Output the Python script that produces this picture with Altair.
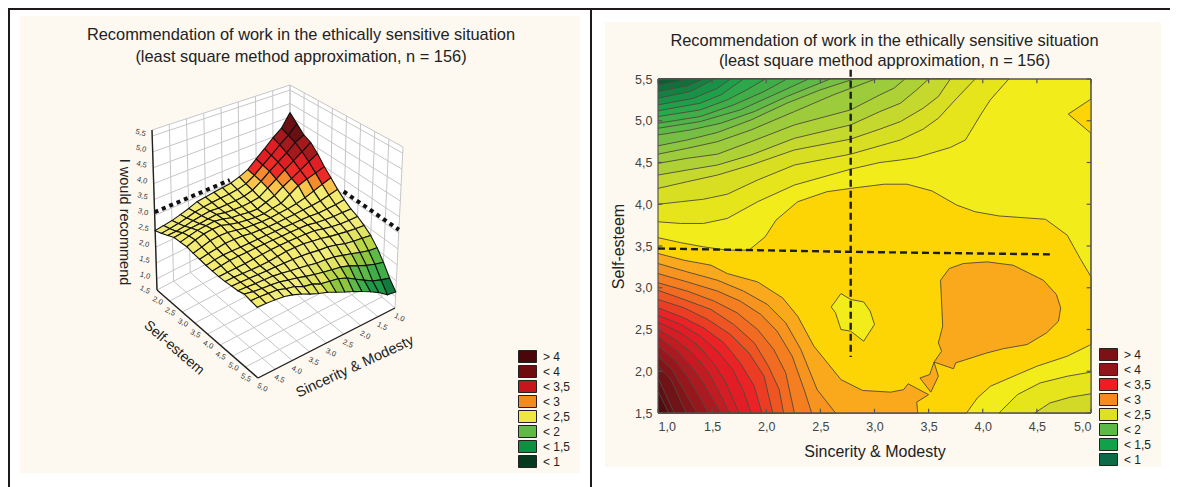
import altair as alt
import pandas as pd

FONT = "Liberation Sans"
TITLE = ["Recommendation of work in the ethically sensitive situation",
         "(least square method approximation, n = 156)"]
LEVEL_LABELS = ["> 4", "< 4", "< 3,5", "< 3", "< 2,5", "< 2", "< 1,5", "< 1"]
LEGEND_3D = ["#4a0608", "#6e0c10", "#c8151c", "#f28b1e", "#eee93a", "#5fbb46", "#0f8f42", "#063a1e"]
LEGEND_2D = ["#7d1117", "#941519", "#ee1c25", "#f58a1f", "#dde11f", "#5cb947", "#12a14b", "#0c6b46"]

# Response surface, rows: self-esteem 1.5..5.5 (step .25), columns: sincerity 1..5 (step .25)
S_VALUES = [1 + i * 0.25 for i in range(17)]
SE_VALUES = [1.5 + i * 0.25 for i in range(17)]
Z = [
 [4.66,4.20,3.97,3.70,3.45,3.20,3.07,2.98,2.95,2.92,2.88,2.85,2.75,2.67,2.60,2.56,2.52],
 [4.40,4.10,3.88,3.62,3.40,3.17,3.00,2.93,2.90,2.89,2.87,2.84,2.80,2.73,2.67,2.63,2.60],
 [4.15,4.00,3.75,3.55,3.35,3.13,2.95,2.87,2.85,2.85,2.85,2.88,2.85,2.81,2.75,2.71,2.70],
 [4.04,3.83,3.63,3.44,3.25,3.06,2.88,2.84,2.82,2.84,2.87,2.93,2.91,2.88,2.86,2.83,2.80],
 [3.80,3.63,3.47,3.30,3.15,2.97,2.87,2.78,2.79,2.84,2.87,2.95,3.00,2.98,2.95,2.89,2.82],
 [3.50,3.40,3.32,3.22,3.05,2.88,2.84,2.79,2.79,2.83,2.87,2.94,3.03,3.03,3.00,2.93,2.84],
 [3.27,3.17,3.07,2.97,2.90,2.86,2.84,2.82,2.82,2.84,2.86,2.92,2.97,2.98,2.95,2.87,2.80],
 [3.03,2.96,2.90,2.87,2.86,2.84,2.83,2.82,2.82,2.84,2.85,2.90,2.91,2.91,2.87,2.83,2.78],
 [2.84,2.80,2.79,2.78,2.81,2.82,2.82,2.83,2.83,2.83,2.83,2.83,2.83,2.83,2.83,2.80,2.75],
 [2.69,2.70,2.70,2.73,2.76,2.82,2.83,2.84,2.84,2.84,2.84,2.84,2.83,2.83,2.82,2.78,2.74],
 [2.60,2.60,2.62,2.66,2.72,2.79,2.81,2.82,2.83,2.83,2.82,2.80,2.78,2.76,2.75,2.74,2.73],
 [2.46,2.49,2.53,2.58,2.63,2.70,2.74,2.79,2.80,2.80,2.77,2.74,2.73,2.73,2.74,2.75,2.74],
 [2.30,2.34,2.38,2.43,2.52,2.59,2.61,2.66,2.69,2.71,2.72,2.73,2.73,2.74,2.75,2.76,2.76],
 [2.06,2.10,2.18,2.27,2.35,2.43,2.47,2.49,2.55,2.60,2.64,2.69,2.73,2.74,2.75,2.77,2.78],
 [1.76,1.83,1.93,2.05,2.18,2.27,2.32,2.37,2.43,2.50,2.58,2.64,2.71,2.74,2.76,2.79,2.84],
 [1.42,1.50,1.60,1.76,1.92,2.09,2.20,2.25,2.30,2.42,2.47,2.60,2.66,2.75,2.77,2.79,2.80],
 [1.15,1.20,1.40,1.56,1.70,1.83,1.95,2.07,2.20,2.29,2.40,2.53,2.63,2.70,2.73,2.75,2.76],
]

# Filled contour regions of the right panel as (sincerity, self-esteem) vertices, back to front.
REGIONS = [
 ("#f2ec1a", [(1,1.5),(5,1.5),(5,5.5),(1,5.5)]),
 ("#e6e51c", [(1,3.79),(1.21,3.77),(1.42,3.77),(1.64,3.83),(1.92,4.03),(2.26,4.23),(2.78,4.42),(3.05,4.50),(3.24,4.53),(3.39,4.56),(3.70,4.68),(3.84,4.77),(3.98,5.07),(4.07,5.25),(4.24,5.5),(1,5.5)]),
 ("#d8df22", [(1,4.0),(1.21,4.03),(1.42,4.06),(1.64,4.12),(1.92,4.29),(2.26,4.47),(2.78,4.60),(3.05,4.70),(3.24,4.77),(3.45,4.90),(3.59,5.03),(3.76,5.27),(3.93,5.5),(1,5.5)]),
 ("#c5d82e", [(1,4.19),(1.27,4.27),(1.55,4.35),(1.86,4.47),(2.26,4.65),(2.78,4.78),(3.05,4.90),(3.24,4.99),(3.45,5.15),(3.59,5.29),(3.70,5.5),(1,5.5)]),
 ("#aed136", [(1,4.35),(1.27,4.41),(1.55,4.47),(1.86,4.59),(2.26,4.79),(2.78,4.95),(3.05,5.11),(3.24,5.21),(3.39,5.37),(3.50,5.5),(1,5.5)]),
 ("#9ccb3b", [(1,4.49),(1.27,4.55),(1.55,4.60),(1.86,4.75),(2.26,4.95),(2.78,5.13),(3.05,5.31),(3.18,5.39),(3.28,5.5),(1,5.5)]),
 ("#8cc63f", [(1,4.60),(1.27,4.67),(1.55,4.75),(1.86,4.89),(2.26,5.11),(2.62,5.31),(3.01,5.5),(1,5.5)]),
 ("#75c044", [(1,4.70),(1.27,4.77),(1.55,4.86),(1.86,5.01),(2.19,5.21),(2.50,5.37),(2.81,5.5),(1,5.5)]),
 ("#5fb946", [(1,4.83),(1.30,4.89),(1.58,4.97),(1.89,5.11),(2.19,5.29),(2.59,5.5),(1,5.5)]),
 ("#4fb348", [(1,4.91),(1.39,4.99),(1.76,5.13),(2.07,5.31),(2.39,5.5),(1,5.5)]),
 ("#3fae49", [(1,4.97),(1.39,5.05),(1.70,5.19),(1.98,5.35),(2.19,5.5),(1,5.5)]),
 ("#2ca84a", [(1,5.05),(1.39,5.13),(1.64,5.25),(1.82,5.37),(1.99,5.5),(1,5.5)]),
 ("#1f9f4a", [(1,5.12),(1.39,5.21),(1.58,5.31),(1.79,5.5),(1,5.5)]),
 ("#1a9148", [(1,5.19),(1.33,5.27),(1.55,5.39),(1.67,5.5),(1,5.5)]),
 ("#168042", [(1,5.27),(1.30,5.35),(1.52,5.5),(1,5.5)]),
 ("#126e3b", [(1,5.35),(1.27,5.42),(1.42,5.5),(1,5.5)]),
 ("#0e5e35", [(1,5.43),(1.18,5.47),(1.24,5.5),(1,5.5)]),
 ("#fdd504", [(1,3.60),(1.21,3.54),(1.42,3.49),(1.64,3.45),(1.84,3.45),(1.99,3.61),(2.09,3.81),(2.29,4.03),(2.56,4.15),(2.78,4.19),(3.09,4.24),(3.30,4.24),(3.53,4.16),(3.76,3.99),(3.93,3.91),(4.15,3.86),(4.58,3.82),(4.78,3.63),(4.90,3.35),(5,3.13),(5,2.32),(4.78,2.18),(4.50,2.06),(4.32,1.96),(4.07,1.82),(3.95,1.68),(3.85,1.5),(1,1.5)]),
 ("#fdd504", [(5,5.26),(4.79,5.08),(5,4.85)]),
 ("#e6e51c", [(5,1.99),(4.78,1.94),(4.53,1.86),(4.32,1.72),(4.15,1.5),(5,1.5)]),
 ("#d2da27", [(5,1.73),(4.81,1.69),(4.62,1.62),(4.48,1.5),(5,1.5)]),
 ("#f9a91b", [(1,3.41),(1.24,3.33),(1.49,3.27),(1.64,3.17),(1.92,3.07),(2.15,2.88),(2.29,2.66),(2.44,2.30),(2.69,1.90),(2.89,1.77),(3.15,1.75),(3.27,1.78),(3.31,1.85),(3.50,1.72),(3.39,1.63),(3.40,1.5),(1,1.5)]),
 ("#f79420", [(1,3.29),(1.27,3.19),(1.55,3.09),(1.79,2.96),(2.01,2.80),(2.18,2.58),(2.32,2.26),(2.47,1.78),(2.64,1.5),(1,1.5)]),
 ("#f57f20", [(1,3.17),(1.27,3.07),(1.55,2.96),(1.76,2.84),(1.95,2.68),(2.10,2.48),(2.24,2.18),(2.35,1.78),(2.42,1.5),(1,1.5)]),
 ("#f26b22", [(1,3.06),(1.27,2.96),(1.52,2.84),(1.73,2.70),(1.92,2.50),(2.07,2.26),(2.18,1.98),(2.26,1.5),(1,1.5)]),
 ("#ef5423", [(1,2.97),(1.24,2.86),(1.49,2.74),(1.70,2.56),(1.89,2.34),(2.02,2.06),(2.12,1.78),(2.16,1.5),(1,1.5)]),
 ("#ed3c24", [(1,2.86),(1.24,2.76),(1.46,2.62),(1.67,2.44),(1.84,2.22),(1.98,1.94),(2.06,1.5),(1,1.5)]),
 ("#ec2326", [(1,2.76),(1.24,2.64),(1.42,2.52),(1.61,2.34),(1.76,2.10),(1.89,1.82),(1.96,1.5),(1,1.5)]),
 ("#e31d25", [(1,2.67),(1.21,2.56),(1.39,2.42),(1.55,2.24),(1.69,2.02),(1.79,1.76),(1.86,1.5),(1,1.5)]),
 ("#d41d24", [(1,2.59),(1.21,2.46),(1.36,2.32),(1.50,2.12),(1.62,1.88),(1.75,1.5),(1,1.5)]),
 ("#c01c22", [(1,2.50),(1.18,2.36),(1.33,2.20),(1.46,2.0),(1.56,1.76),(1.66,1.5),(1,1.5)]),
 ("#aa1a20", [(1,2.41),(1.16,2.26),(1.29,2.08),(1.41,1.88),(1.58,1.5),(1,1.5)]),
 ("#96181d", [(1,2.30),(1.15,2.14),(1.27,1.94),(1.47,1.5),(1,1.5)]),
 ("#82151a", [(1,2.18),(1.13,2.02),(1.36,1.5),(1,1.5)]),
 ("#701317", [(1,2.06),(1.12,1.90),(1.26,1.5),(1,1.5)]),
 ("#601014", [(1,1.92),(1.15,1.5),(1,1.5)]),
 ("#500c10", [(1,1.76),(1.10,1.5),(1,1.5)]),
 ("#f9a91b", [(3.69,3.23),(3.82,3.29),(4.04,3.31),(4.28,3.27),(4.56,3.09),(4.68,2.92),(4.72,2.76),(4.70,2.60),(4.59,2.46),(4.41,2.32),(4.19,2.27),(4.04,2.22),(3.75,2.10),(3.73,2.03),(3.55,2.11),(3.59,1.94),(3.52,1.75),(3.42,1.92),(3.51,1.96),(3.55,2.11),(3.62,2.24),(3.59,2.34),(3.63,2.54),(3.61,3.09),(3.69,3.23)]),
 ("#f2ec1a", [(2.69,2.93),(2.78,2.86),(2.90,2.83),(2.96,2.72),(3.0,2.56),(2.90,2.36),(2.78,2.48),(2.69,2.50),(2.64,2.70),(2.60,2.77),(2.69,2.93)]),
]
# Dashed cross (sincerity, self-esteem)
DASH_V = [(2.78, 5.61), (2.78, 2.17)]
DASH_H = [(1.0, 3.47), (2.78, 3.43), (4.62, 3.40)]

AXIS_S = [1.0, 1.5, 2.0, 2.5, 3.0, 3.5, 4.0, 4.5, 5.0]
AXIS_SE = [1.5, 2.0, 2.5, 3.0, 3.5, 4.0, 4.5, 5.0, 5.5]
AXIS_Z = [1.0, 1.5, 2.0, 2.5, 3.0, 3.5, 4.0, 4.5, 5.0, 5.5]

def comma(v):
    return f"{v:.1f}".replace(".", ",")

# ---------- 3D projection: box corners on the left panel ----------
FLOOR = {"b": (290, 220), "l": (157, 290), "r": (395, 308), "f": (258, 378)}
TOP = {"b": (290, 85), "l": (152, 130), "r": (403, 147), "f": (256, 209)}
ZMIN, ZMAX = 0.65, 5.69

def proj(s, se, z):
    u, v, w = (s - 1) / 4, (se - 1.5) / 4, (z - ZMIN) / (ZMAX - ZMIN)
    def bil(c, i):
        return ((1-u)*(1-v)*c["b"][i] + u*(1-v)*c["l"][i] + (1-u)*v*c["r"][i] + u*v*c["f"][i])
    return ((1-w)*bil(FLOOR, 0) + w*bil(TOP, 0), (1-w)*bil(FLOOR, 1) + w*bil(TOP, 1))

def surf_color(z):
    stops = [(1.2,"#0a3a1e"),(1.4,"#127a3c"),(1.6,"#1e9a46"),(1.8,"#3fae49"),(2.0,"#5fb946"),
             (2.15,"#8cc63f"),(2.3,"#b8d648"),(2.5,"#e2e563"),(2.75,"#f1ec7a"),(3.06,"#f4ec70"),
             (3.18,"#f9c24a"),(3.3,"#f58a2e"),(3.5,"#ed2a26"),(3.8,"#e01f24"),(4.1,"#a5181c"),(4.4,"#6a0f12")]
    for lim, c in stops:
        if z < lim:
            return c
    return "#3e080a"

def poly_frame(polys):
    rows = []
    for i, (fill, pts) in enumerate(polys):
        for j, (a, b) in enumerate(pts):
            rows.append({"poly": i, "ord": j, "a": a, "b": b, "fill": fill})
    return pd.DataFrame(rows)

# ---------- left panel ----------
LX = alt.Scale(domain=[20, 590], nice=False, zero=False)
LY = alt.Scale(domain=[413, 79], nice=False, zero=False)
def lx(f="a"): return alt.X(f"{f}:Q", scale=LX, axis=None)
def ly(f="b"): return alt.Y(f"{f}:Q", scale=LY, axis=None)

def filled(df, stroke=None, width=1.0, scx=lx, scy=ly):
    kw = {"strokeWidth": width} if stroke else {"strokeWidth": 0}
    if stroke:
        kw["stroke"] = stroke
    return alt.Chart(df).mark_line(filled=True, **kw).encode(
        x=scx(), y=scy(), order="ord:Q", detail="poly:N",
        fill=alt.Fill("fill:N", scale=None))

def segs(seglist, color, width, dash=None):
    rows = []
    for i, (p, q) in enumerate(seglist):
        rows.append({"seg": i, "ord": 0, "a": p[0], "b": p[1]})
        rows.append({"seg": i, "ord": 1, "a": q[0], "b": q[1]})
    kw = {"strokeDash": dash} if dash else {}
    return alt.Chart(pd.DataFrame(rows)).mark_line(color=color, strokeWidth=width, **kw).encode(
        x=lx(), y=ly(), order="ord:Q", detail="seg:N")

def rects(rows, color):
    df = pd.DataFrame(rows, columns=["a", "a2", "b", "b2"])
    return alt.Chart(df).mark_rect(color=color).encode(x=lx(), x2="a2:Q", y=ly(), y2="b2:Q")

cream = "#fdf9f1"
bg = rects([(20, 580, 16, 473), (605, 1161, 22, 467)], cream)
borders = rects([(8, 1170, 8, 10), (8, 10, 8, 487), (590, 592, 8, 487)], "#1e1a1b")

wall_polys = [
 ("#ffffff", [proj(1,1.5,ZMIN),proj(5,1.5,ZMIN),proj(5,1.5,ZMAX),proj(1,1.5,ZMAX)]),
 ("#ffffff", [proj(1,1.5,ZMIN),proj(1,5.5,ZMIN),proj(1,5.5,ZMAX),proj(1,1.5,ZMAX)]),
 ("#ffffff", [proj(1,1.5,ZMIN),proj(5,1.5,ZMIN),proj(5,5.5,ZMIN),proj(1,5.5,ZMIN)]),
]
walls = filled(poly_frame(wall_polys))
grid_segs = []
for s in AXIS_S:
    grid_segs += [(proj(s,1.5,ZMIN),proj(s,1.5,ZMAX)), (proj(s,1.5,ZMIN),proj(s,5.5,ZMIN))]
for se in AXIS_SE:
    grid_segs += [(proj(1,se,ZMIN),proj(1,se,ZMAX)), (proj(1,se,ZMIN),proj(5,se,ZMIN))]
for z in AXIS_Z + [ZMAX]:
    grid_segs += [(proj(1,1.5,z),proj(5,1.5,z)), (proj(1,1.5,z),proj(1,5.5,z))]
grid = segs(grid_segs, "#c6c6c6", 1)
edges = segs([(proj(5,1.5,ZMIN),proj(5,5.5,ZMIN)), (proj(5,5.5,ZMIN),proj(1,5.5,ZMIN)),
              (proj(5,1.5,ZMIN),proj(5,1.5,ZMAX))], "#222222", 1.4)
dots = segs([(proj(5,1.5,3.1),proj(2.78,1.5,3.1)), (proj(1,3.47,3.1),proj(1,5.5,3.1))], "#141012", 4, [4,4])

quads = []
for i in range(16):
    for j in range(16):
        quads.append((i + j, i, j))
quads.sort()
polys = []
for _, i, j in quads:
    pts = [proj(S_VALUES[j], SE_VALUES[i], Z[i][j]),
           proj(S_VALUES[j+1], SE_VALUES[i], Z[i][j+1]),
           proj(S_VALUES[j+1], SE_VALUES[i+1], Z[i+1][j+1]),
           proj(S_VALUES[j], SE_VALUES[i+1], Z[i+1][j]),
           proj(S_VALUES[j], SE_VALUES[i], Z[i][j])]
    polys.append((surf_color((Z[i][j]+Z[i][j+1]+Z[i+1][j]+Z[i+1][j+1])/4), pts))
surface = filled(poly_frame(polys), stroke="#111111", width=1.1)

def tick_text(rows, angle, dx, dy):
    return alt.Chart(pd.DataFrame(rows)).mark_text(
        font=FONT, fontSize=7.5, color="#333333", angle=angle, dx=dx, dy=dy).encode(
        x=lx(), y=ly(), text="t:N")
t_se = tick_text([{"a": proj(5,v,ZMIN)[0], "b": proj(5,v,ZMIN)[1], "t": comma(v)} for v in AXIS_SE], 25, -11, 5)
t_s = tick_text([{"a": proj(v,5.5,ZMIN)[0], "b": proj(v,5.5,ZMIN)[1], "t": comma(v)} for v in AXIS_S], 25, 8, 7)
t_z = tick_text([{"a": proj(5,1.5,v)[0], "b": proj(5,1.5,v)[1], "t": comma(v)} for v in AXIS_Z], 15, -12, 0)

def axis_text(label, x, y, angle, size):
    return alt.Chart(pd.DataFrame([{"a": x, "b": y, "t": label}])).mark_text(
        font=FONT, fontSize=size, color="#222222", angle=angle).encode(x=lx(), y=ly(), text="t:N")

def legend_layer(colors, lx_pos, ly_pos):
    return alt.Chart(pd.DataFrame({"lab": LEVEL_LABELS})).mark_point(filled=True, opacity=0).encode(
        color=alt.Color("lab:N", sort=LEVEL_LABELS,
            scale=alt.Scale(domain=LEVEL_LABELS, range=colors),
            legend=alt.Legend(title=None, orient="none", legendX=lx_pos, legendY=ly_pos,
                symbolType="M-1.5,-1H1.5V1H-1.5Z", symbolSize=144, symbolOpacity=1,
                symbolStrokeColor="#222222", symbolStrokeWidth=1, zindex=2,
                labelFont=FONT, labelFontSize=12, labelColor="#222222", rowPadding=-2.8,
                labelOffset=9)))

left = alt.layer(
    bg, borders, walls, grid, dots, edges, surface, t_se, t_s, t_z,
    axis_text("I would recommend", 124, 222, 90, 14.5),
    axis_text("Self-esteem", 174, 348, 41, 14),
    axis_text("Sincerity & Modesty", 355, 367, 335, 14.5),
    legend_layer(LEGEND_3D, 501, 271),
).properties(width=570, height=334,
    title=alt.TitleParams(TITLE, font=FONT, fontSize=16.4, fontWeight="normal", color="#222222", frame="group",
                          anchor="middle", offset=-57, dx=-4, lineHeight=22))

# ---------- right panel ----------
RX = alt.Scale(domain=[1, 5], nice=False, zero=False)
RY = alt.Scale(domain=[1.5, 5.5], nice=False, zero=False)
AX = alt.Axis(title="Sincerity & Modesty", values=AXIS_S, labelExpr="replace(format(datum.value,'.1f'),'.',',')",
        domain=False, ticks=False, grid=False, labelFont=FONT, labelFontSize=12.5, labelColor="#444444", zindex=1,
        labelPadding=7, titleFont=FONT, titleFontSize=16, titleFontWeight="normal", titleColor="#222222", titlePadding=11)
AY = alt.Axis(title="Self-esteem", values=AXIS_SE, labelExpr="replace(format(datum.value,'.1f'),'.',',')",
        domain=False, ticks=False, grid=False, labelFont=FONT, labelFontSize=12.5, labelColor="#444444", zindex=1,
        labelPadding=6, titleFont=FONT, titleFontSize=16, titleFontWeight="normal", titleColor="#222222", titlePadding=8)
def rx(f="a"): return alt.X(f"{f}:Q", scale=RX, axis=AX)
def ry(f="b"): return alt.Y(f"{f}:Q", scale=RY, axis=AY)

contours = alt.Chart(poly_frame(REGIONS)).mark_line(filled=True, stroke="#4e4a3c", strokeWidth=0.9).encode(
    x=rx(), y=ry(), order="ord:Q", detail="poly:N", fill=alt.Fill("fill:N", scale=None))

frame_rows = [{"a":1,"b":1.5,"a2":5,"b2":1.5},{"a":1,"b":5.5,"a2":5,"b2":5.5},
              {"a":1,"b":1.5,"a2":1,"b2":5.5},{"a":5,"b":1.5,"a2":5,"b2":5.5}]
for v in AXIS_S:
    frame_rows += [{"a":v,"b":5.5,"a2":v,"b2":5.45},{"a":v,"b":1.5,"a2":v,"b2":1.55}]
for v in AXIS_SE:
    frame_rows += [{"a":5,"b":v,"a2":4.96,"b2":v},{"a":1,"b":v,"a2":1.04,"b2":v}]
frame = alt.Chart(pd.DataFrame(frame_rows)).mark_rule(color="#555555", strokeWidth=1.2).encode(
    x=rx(), x2="a2:Q", y=ry(), y2="b2:Q")

def dash(points):
    df = pd.DataFrame([{"a": a, "b": b, "ord": i} for i, (a, b) in enumerate(points)])
    return alt.Chart(df).mark_line(color="#1e1e1e", strokeWidth=2.4, strokeDash=[7,4]).encode(
        x=rx(), y=ry(), order="ord:Q")

right = alt.layer(contours, frame, dash(DASH_V), dash(DASH_H), legend_layer(LEGEND_2D, 444, 269)).properties(
    width=433, height=334,
    title=alt.TitleParams(TITLE, font=FONT, fontSize=16.4, fontWeight="normal", color="#222222", frame="group",
                          anchor="middle", offset=-4, dx=10, lineHeight=20))

chart = alt.hconcat(left, right, spacing=68, bounds="flush",
                    padding={"left": 0, "top": 0, "right": 0, "bottom": 0},
                    background="#ffffff").resolve_scale(color="independent").configure_view(stroke=None)

chart.save("out.html", embed_options={"renderer": "svg", "actions": False})
